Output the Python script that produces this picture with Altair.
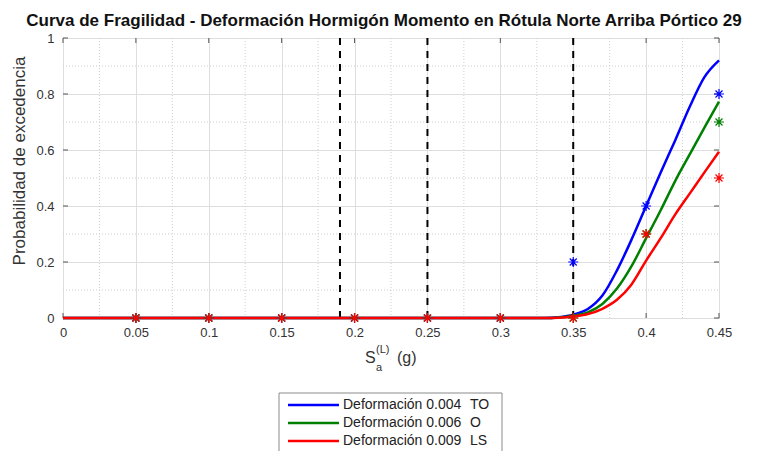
import altair as alt
import pandas as pd

# ---- data ----
curve_x = [0.0, 0.33, 0.34, 0.35, 0.36, 0.37, 0.38, 0.39, 0.40, 0.41, 0.42, 0.43, 0.44, 0.45]
blue_y  = [0.0, 0.0, 0.003, 0.012, 0.032, 0.080, 0.170, 0.280, 0.400, 0.520, 0.635, 0.755, 0.860, 0.920]
green_y = [0.0, 0.0, 0.002, 0.008, 0.020, 0.050, 0.105, 0.185, 0.285, 0.385, 0.490, 0.585, 0.680, 0.773]
red_y   = [0.0, 0.0, 0.001, 0.005, 0.014, 0.033, 0.065, 0.120, 0.205, 0.285, 0.370, 0.445, 0.520, 0.594]

pt_x     = [0.05, 0.10, 0.15, 0.20, 0.25, 0.30, 0.35, 0.40, 0.45]
blue_pt  = [0, 0, 0, 0, 0, 0, 0.2, 0.4, 0.8]
green_pt = [0, 0, 0, 0, 0, 0, 0.0, 0.3, 0.7]
red_pt   = [0, 0, 0, 0, 0, 0, 0.0, 0.3, 0.5]

series = ["Deformación 0.004", "Deformación 0.006", "Deformación 0.009"]
levels = ["TO", "O", "LS"]
colors = ["#0000ff", "#008000", "#ff0000"]

vlines = [0.19, 0.25, 0.35]
x_ticks = [0, 0.05, 0.1, 0.15, 0.2, 0.25, 0.3, 0.35, 0.4, 0.45]
y_ticks = [0, 0.2, 0.4, 0.6, 0.8, 1.0]
x_minor = [0.025, 0.075, 0.125, 0.175, 0.225, 0.275, 0.325, 0.375, 0.425]
y_minor = [0.1, 0.3, 0.5, 0.7, 0.9]

title = "Curva de Fragilidad - Deformación Hormigón Momento en Rótula Norte Arriba Pórtico 29"
y_title = "Probabilidad de excedencia"

W, H = 656, 280
FONT = "Liberation Sans"
TXT = "#333333"

# ---- tables ----
rows = []
for s, ys in zip(series, [blue_y, green_y, red_y]):
    for xv, yv in zip(curve_x, ys):
        rows.append({"x": xv, "y": yv, "s": s})
curves = pd.DataFrame(rows)

prow = []
for i, (s, ys) in enumerate(zip(series, [blue_pt, green_pt, red_pt])):
    for xv, yv in zip(pt_x, ys):
        prow.append({"x": xv, "y": yv, "s": s, "o": i})
pts = pd.DataFrame(prow)

xscale = alt.Scale(domain=[0, 0.45], nice=False, zero=False, padding=0)
yscale = alt.Scale(domain=[0, 1], nice=False, padding=0)
cscale = alt.Scale(domain=series, range=colors)

xaxis = alt.Axis(values=x_ticks, format="~g", title=None, grid=True, gridColor="#dedede",
                 gridWidth=1, ticks=False, domain=False, labelFontSize=13, labelColor=TXT,
                 labelPadding=8, labelFont=FONT, labelFlush=False)
yaxis = alt.Axis(values=y_ticks, format="~g", title=None, grid=True,
                 gridColor="#dedede", gridWidth=1, ticks=False, domain=False, labelFontSize=13,
                 labelColor=TXT, labelPadding=9, labelFont=FONT, labelFlush=False)

minor_x = alt.Chart(pd.DataFrame({"v": x_minor})).mark_rule(
    color="#cfcfcf", strokeDash=[1, 2], strokeWidth=1).encode(
    x=alt.X("v:Q", scale=xscale, axis=xaxis), y=alt.value(0), y2=alt.value(H))
minor_y = alt.Chart(pd.DataFrame({"v": y_minor})).mark_rule(
    color="#cfcfcf", strokeDash=[1, 2], strokeWidth=1).encode(
    y=alt.Y("v:Q", scale=yscale, axis=yaxis), x=alt.value(0), x2=alt.value(W))

# inward ticks on all four sides
xt = pd.DataFrame({"v": x_ticks})
yt = pd.DataFrame({"v": y_ticks})
tick_b = alt.Chart(xt).mark_rule(color="#555555").encode(
    x=alt.X("v:Q", scale=xscale), y=alt.value(H), y2=alt.value(H - 5))
tick_t = alt.Chart(xt).mark_rule(color="#555555").encode(
    x=alt.X("v:Q", scale=xscale), y=alt.value(0), y2=alt.value(5))
tick_l = alt.Chart(yt).mark_rule(color="#555555").encode(
    y=alt.Y("v:Q", scale=yscale), x=alt.value(0), x2=alt.value(5))
tick_r = alt.Chart(yt).mark_rule(color="#555555").encode(
    y=alt.Y("v:Q", scale=yscale), x=alt.value(W), x2=alt.value(W - 5))

dashed = alt.Chart(pd.DataFrame({"v": vlines})).mark_rule(
    color="black", strokeDash=[7, 6], strokeWidth=2).encode(
    x=alt.X("v:Q", scale=xscale), y=alt.value(0), y2=alt.value(H))

lines = alt.Chart(curves).mark_line(strokeWidth=2.5, interpolate="monotone").encode(
    x=alt.X("x:Q", scale=xscale),
    y=alt.Y("y:Q", scale=yscale),
    color=alt.Color("s:N", scale=cscale, sort=series, legend=None),
    detail="s:N")

star = "M-1,0L1,0M0,-1L0,1M-0.7,-0.7L0.7,0.7M-0.7,0.7L0.7,-0.7"
points = alt.Chart(pts).mark_point(shape=star, filled=False, size=100, strokeWidth=1.2, opacity=1).encode(
    x=alt.X("x:Q", scale=xscale),
    y=alt.Y("y:Q", scale=yscale),
    stroke=alt.Stroke("s:N", scale=cscale, legend=None),
    order="o:Q")


def txt(t, x, y, size, baseline="alphabetic", align="left", angle=0, color=TXT, weight="normal"):
    return alt.Chart(pd.DataFrame({"t": [t]})).mark_text(
        align=align, baseline=baseline, fontSize=size, font=FONT, color=color, angle=angle,
        fontWeight=weight).encode(
        text="t:N", x=alt.value(x), y=alt.value(y))


title_mark = txt(title, 321, -12, 17, align="center", color="#111111", weight="bold")
xlab = txt("S", 302, 325, 16) + txt("(L)", 313, 315, 11) + txt("a", 313, 333, 11) + txt("(g)", 334, 325, 16)
ylab = txt(y_title, -43, 123, 17, baseline="middle", align="center", angle=270)

# legend (box, line samples, texts)
LX0, LX1, LY0, LY1 = 216, 439, 355, 414
legend_box = alt.Chart(pd.DataFrame({"a": [0]})).mark_rect(
    fill="white", stroke="#8a8a8a", strokeWidth=1).encode(
    x=alt.value(LX0), x2=alt.value(LX1), y=alt.value(LY0), y2=alt.value(LY1))
legend_layers = [legend_box]
for i, (s, lv, c) in enumerate(zip(series, levels, colors)):
    ry = 367 + 18 * i
    legend_layers.append(alt.Chart(pd.DataFrame({"a": [0]})).mark_rule(color=c, strokeWidth=2.5).encode(
        x=alt.value(225), x2=alt.value(276), y=alt.value(ry)))
    legend_layers.append(txt(s, 280, ry, 14, baseline="middle", color="#222222"))
    legend_layers.append(txt(lv, 407, ry, 14, baseline="middle", color="#222222"))

chart = alt.layer(minor_x, minor_y, tick_b, tick_t, tick_l, tick_r, dashed, lines, points,
                  title_mark, xlab, ylab, *legend_layers).properties(
    width=W, height=H,
    autosize=alt.AutoSizeParams(type="none"),
    padding={"left": 55, "top": 30, "right": 44, "bottom": 133},
).configure_view(stroke="#555555", strokeWidth=1).configure(background="white")

chart.save("out.html", embed_options={"renderer": "svg", "actions": False})
